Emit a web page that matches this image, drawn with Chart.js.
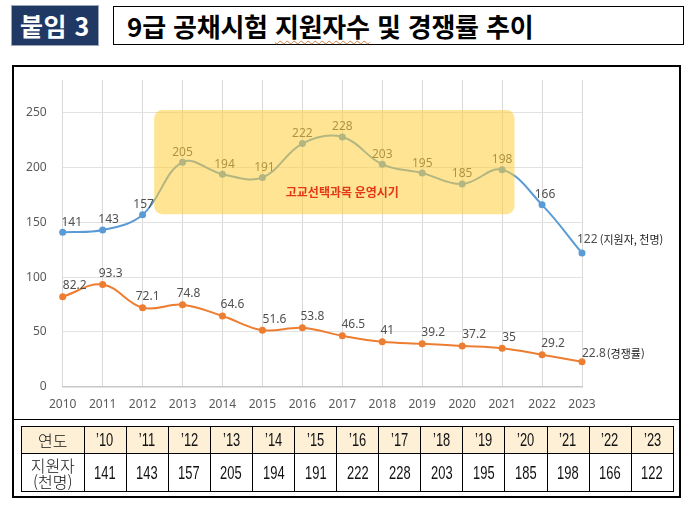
<!DOCTYPE html>
<html lang="ko">
<head>
<meta charset="utf-8">
<script src="https://cdn.jsdelivr.net/npm/chart.js@4.4.1/dist/chart.umd.min.js"></script>
<style>
  html, body { margin: 0; padding: 0; background: #fff; }
  body { width: 690px; height: 510px; position: relative; overflow: hidden; font-family: "Noto Sans CJK KR", "Noto Sans", sans-serif; }
  #tag { position: absolute; left: 11px; top: 5px; width: 86px; height: 39px; background: #1f3864; border: 1.5px solid #9aa6b8;
         color: #fff; font-weight: 700; font-size: 25px; line-height: 39px; text-align: center; letter-spacing: 0.5px; }
  #title { position: absolute; left: 113px; top: 6px; width: 569px; height: 37px; border: 1.5px solid #000; }
  #title span { position: absolute; left: 13px; top: 0; line-height: 37px; font-weight: 700; font-size: 26px; color: #000; white-space: nowrap; letter-spacing: -0.2px; }
  #frame { position: absolute; left: 12px; top: 65px; width: 665px; height: 429px; border: 2px solid #000; pointer-events: none; }
  #sep { position: absolute; left: 12px; top: 419px; width: 669px; height: 0; border-top: 1.5px solid #000; }
  #cv { position: absolute; left: 13px; top: 66px; }
  table { position: absolute; left: 21px; top: 426px; border-collapse: collapse; table-layout: fixed; }
  td { border: 1px solid #000; text-align: center; padding: 0; color: #111; }
  tr.h td { background: #fdf0d7; height: 26px; font-size: 19px; }
  tr.d td { height: 37px; font-size: 19px; }
  td.first { width: 61.5px; font-family: "Noto Sans CJK KR", sans-serif; font-weight: 300; font-size: 16px !important; line-height: 16px; }
  td.num { width: 41.1px; font-family: "Liberation Sans", "DejaVu Sans", sans-serif; }
  td.num span { display: inline-block; transform: scaleX(0.68); transform-origin: center; }
</style>
</head>
<body>
<div id="tag">붙임 3</div>
<div id="title"><span>9급 공채시험 <span style="position:static;font-size:inherit;text-decoration:underline wavy #d08040;text-decoration-thickness:1px;text-underline-offset:3px;">지원자수</span> 및 경쟁률 추이</span></div>
<canvas id="cv" width="666" height="353"></canvas>
<div id="frame"></div>
<div id="sep"></div>
<table id="tbl"></table>
<script>
// ---- data ----
const years = ['2010','2011','2012','2013','2014','2015','2016','2017','2018','2019','2020','2021','2022','2023'];
const applicants = [141, 143, 157, 205, 194, 191, 222, 228, 203, 195, 185, 198, 166, 122];
const competition = [82.2, 93.3, 72.1, 74.8, 64.6, 51.6, 53.8, 46.5, 41, 39.2, 37.2, 35, 29.2, 22.8];
const tableYears = ["’10","’11","’12","’13","’14","’15","’16","’17","’18","’19","’20","’21","’22","’23"];
const yTicks = [0, 50, 100, 150, 200, 250];
const highlightText = '고교선택과목 운영시기';
const applicantsUnit = '(지원자, 천명)';
const competitionUnit = '(경쟁률)';

// ---- table ----
(function buildTable() {
  const t = document.getElementById('tbl');
  let h = '<tr class="h"><td class="first">연도</td>';
  tableYears.forEach(y => { h += '<td class="num"><span>' + y + '</span></td>'; });
  h += '</tr><tr class="d"><td class="first">지원자<br>(천명)</td>';
  applicants.forEach(v => { h += '<td class="num"><span>' + v + '</span></td>'; });
  h += '</tr>';
  t.innerHTML = h;
})();

// label style offsets (dx from point) – styling only
const blueDx = [9, 6, 1, 0, 2, 2, 0, 0, 0, 0, 0, 0, 3, 0];
const orangeDx = [12, 8, 5, 6, 10, 12, 10, 11, 5, 11, 12, 7, 11, 0];

const overlayPlugin = {
  id: 'overlay',
  afterDatasetsDraw(chart) {
    const ctx = chart.ctx;
    const xs = chart.scales.x, ys = chart.scales.y;
    const m0 = chart.getDatasetMeta(0).data;
    const m1 = chart.getDatasetMeta(1).data;
    ctx.save();
    ctx.textBaseline = 'middle';
    ctx.fillStyle = '#505050';
    ctx.font = '12px "Noto Sans", "Noto Sans CJK KR", sans-serif';
    m0.forEach((p, i) => {
      const v = String(applicants[i]);
      if (i === applicants.length - 1) {
        ctx.textAlign = 'left';
        const x0 = p.x - 5, y0 = p.y - 13;
        ctx.fillText(v, x0, y0);
        const w = ctx.measureText(v + ' ').width;
        ctx.font = '11px "Noto Sans CJK KR", sans-serif';
        ctx.fillStyle = '#222';
        ctx.fillText(applicantsUnit, x0 + w - 1, y0);
        ctx.fillStyle = '#505050';
        ctx.font = '12px "Noto Sans", sans-serif';
      } else {
        ctx.textAlign = 'center';
        ctx.fillText(v, p.x + blueDx[i], p.y - 10);
      }
    });
    m1.forEach((p, i) => {
      const v = String(competition[i]);
      if (i === competition.length - 1) {
        ctx.textAlign = 'left';
        const x0 = p.x, y0 = p.y - 8;
        ctx.fillText(v, x0, y0);
        const w = ctx.measureText(v).width;
        ctx.font = '11px "Noto Sans CJK KR", sans-serif';
        ctx.fillStyle = '#222';
        ctx.fillText(competitionUnit, x0 + w + 1, y0);
        ctx.fillStyle = '#505050';
        ctx.font = '12px "Noto Sans", sans-serif';
      } else {
        ctx.textAlign = 'center';
        ctx.fillText(v, p.x + orangeDx[i], p.y - 11);
      }
    });
    const step = xs.getPixelForValue(1) - xs.getPixelForValue(0);
    const left = xs.getPixelForValue(2) + 0.29 * step;
    const right = xs.getPixelForValue(11) + 0.31 * step;
    const top = ys.getPixelForValue(252.5);
    const bottom = ys.getPixelForValue(157.5);
    ctx.fillStyle = 'rgba(255, 205, 55, 0.54)';
    ctx.beginPath();
    ctx.roundRect(left, top, right - left, bottom - top, 8);
    ctx.fill();
    ctx.fillStyle = '#e5361c';
    ctx.font = 'bold 12px "Noto Sans CJK KR", sans-serif';
    ctx.textAlign = 'center';
    ctx.fillText(highlightText, xs.getPixelForValue(7), ys.getPixelForValue(177));
    ctx.restore();
  }
};

new Chart(document.getElementById('cv'), {
  type: 'line',
  data: {
    labels: years,
    datasets: [
      { data: applicants, borderColor: '#5b9bd5', backgroundColor: '#5b9bd5', borderWidth: 2,
        pointRadius: 3.5, pointBorderWidth: 0, tension: 0.38, clip: false },
      { data: competition, borderColor: '#ed7d31', backgroundColor: '#ed7d31', borderWidth: 2,
        pointRadius: 3.5, pointBorderWidth: 0, tension: 0.38, clip: false }
    ]
  },
  options: {
    responsive: false,
    animation: false,
    devicePixelRatio: 1,
    layout: { padding: { left: 0, right: 97, top: 14, bottom: 0 } },
    plugins: { legend: { display: false }, tooltip: { enabled: false } },
    scales: {
      x: {
        offset: false,
        grid: { color: '#d9d9d9', drawTicks: false },
        border: { color: '#c8c8c8', width: 1.5 },
        ticks: { color: '#595959', padding: 11, font: { size: 12, family: '"Noto Sans", sans-serif' }, maxRotation: 0 },
        afterFit(s) { s.height = 32.3; s.paddingLeft = 0; s.paddingRight = 0; }
      },
      y: {
        min: 0, max: 280,
        grid: { color: '#e2e2e2', drawTicks: false },
        border: { display: false },
        ticks: { stepSize: 50, includeBounds: false, color: '#595959', padding: 16,
                 font: { size: 12, family: '"Noto Sans", sans-serif' } },
        afterBuildTicks(s) { s.ticks = yTicks.map(v => ({ value: v })); },
        afterFit(s) { s.width = 49.7; s.paddingTop = 0; s.paddingBottom = 0; }
      }
    }
  },
  plugins: [overlayPlugin]
});
</script>
</body>
</html>
